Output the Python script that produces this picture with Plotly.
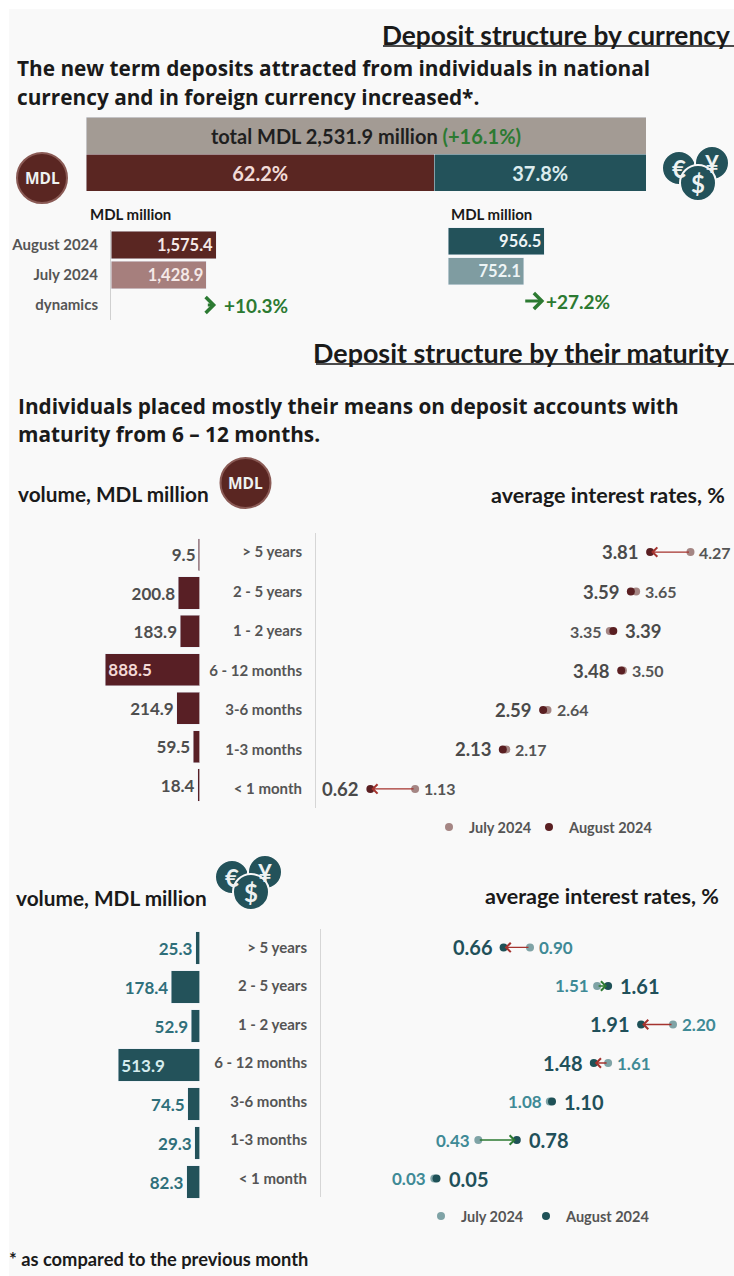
import plotly.graph_objects as go

W, H = 734, 1276
NARROW = "Lato, sans-serif"
WIDE = "Open Sans, sans-serif"

RED_DARK, RED_MID, RED_LIGHT = "#5a2622", "#581f25", "#a67f7d"
TEAL_DARK, TEAL_LIGHT = "#23525a", "#7f9ca1"
GREEN = "#2c7a32"
GREY_TXT = "#555555"

# ---------- data ----------
total_label = "total MDL 2,531.9 million"
total_change = "(+16.1%)"
share_mdl, share_fx = 62.2, 37.8

months = ["dynamics", "July 2024", "August 2024"]
mdl_values = [None, 1428.9, 1575.4]
fx_values = [None, 752.1, 956.5]
mdl_dynamics = "+10.3%"
fx_dynamics = "+27.2%"

maturities = ["< 1 month", "1-3 months", "3-6 months", "6 - 12 months", "1 - 2 years", "2 - 5 years", "> 5 years"]
mdl_volume = [18.4, 59.5, 214.9, 888.5, 183.9, 200.8, 9.5]
fx_volume = [82.3, 29.3, 74.5, 513.9, 52.9, 178.4, 25.3]
mdl_rate_jul = [1.13, 2.17, 2.64, 3.50, 3.35, 3.65, 4.27]
mdl_rate_aug = [0.62, 2.13, 2.59, 3.48, 3.39, 3.59, 3.81]
fx_rate_jul = [0.03, 0.43, 1.08, 1.61, 2.20, 1.51, 0.90]
fx_rate_aug = [0.05, 0.78, 1.10, 1.48, 1.91, 1.61, 0.66]


def xd(l, r):
    return [l / W, r / W]


def yd(t, b):
    return [1 - b / H, 1 - t / H]


fig = go.Figure()
ann, shapes = [], []


def note(x, y, text, size, color="#1a1a1a", anchor="left", family=NARROW, weight=700):
    pad = {"left": -2, "right": 2, "center": 0}[anchor]
    ann.append(dict(x=(x + pad) / W, y=1 - y / H, xref="paper", yref="paper", text=text, showarrow=False,
                    xanchor=anchor, yanchor="middle", font=dict(size=size, color=color, family=family, weight=weight)))


def hidden(**kw):
    return dict(visible=False, fixedrange=True, **kw)


def coin(cx, cy, r, label, fill, size, ring=None):
    shapes.append(dict(type="circle", xref="paper", yref="paper", x0=(cx - r) / W, x1=(cx + r) / W,
                       y0=1 - (cy + r) / H, y1=1 - (cy - r) / H, fillcolor=fill,
                       line=dict(color=ring or "#f9f9f9", width=2), layer="above"))
    note(cx, cy, label, size, "#eef2f2", "center", WIDE if label == "MDL" else NARROW)


def fx_coins(cx, cy):
    coin(cx - 18, cy - 4, 17, "€", TEAL_DARK, 24)
    coin(cx + 15, cy - 9, 17, "¥", TEAL_DARK, 24)
    coin(cx + 1, cy + 11, 18, "$", TEAL_DARK, 24)


# panel
shapes.append(dict(type="rect", xref="paper", yref="paper", x0=9 / W, x1=1, y0=0, y1=1 - 9 / H,
                   fillcolor="#f9f9f9", line_width=0, layer="below"))

# ---------- totals bar ----------
fig.add_bar(y=["total"], x=[share_mdl + share_fx], width=[1], orientation="h", marker_color="#a39b94", xaxis="x", yaxis="y",
            text=[f"{total_label} <span style='color:{GREEN}'>{total_change}</span>"], textposition="inside",
            insidetextanchor="middle", textangle=0, constraintext="none",
            textfont=dict(size=20, color="#1f1f1f", family=NARROW, weight=700), showlegend=False, hoverinfo="skip")
fig.add_bar(y=["share"], x=[share_mdl], width=[1], orientation="h", marker_color=RED_DARK, xaxis="x", yaxis="y",
            text=[f"{share_mdl}%"], textposition="inside", insidetextanchor="middle", textangle=0, constraintext="none",
            textfont=dict(size=20, color="#f2dcd8", family=NARROW, weight=700), showlegend=False, hoverinfo="skip")
fig.add_bar(y=["share"], x=[share_fx], width=[1], orientation="h", marker_color=TEAL_DARK, xaxis="x", yaxis="y",
            text=[f"{share_fx}%"], textposition="inside", insidetextanchor="middle", textangle=0, constraintext="none",
            textfont=dict(size=20, color="#dcecee", family=NARROW, weight=700), showlegend=False, hoverinfo="skip")

# ---------- small month bars ----------
fig.add_bar(y=months, x=mdl_values, width=0.93, orientation="h", marker_color=["#000", RED_LIGHT, RED_DARK], xaxis="x2", yaxis="y2",
            text=[None, f"{mdl_values[1]:,.1f}", f"{mdl_values[2]:,.1f}"], textposition="inside", insidetextanchor="end",
            textangle=0, constraintext="none", textfont=dict(size=16.5, color="#f5e9e7", family=NARROW, weight=700),
            showlegend=False, hoverinfo="skip")
fig.add_bar(y=months, x=fx_values, width=0.9, orientation="h", marker_color=["#000", TEAL_LIGHT, TEAL_DARK], xaxis="x3", yaxis="y3",
            text=[None, f"{fx_values[1]:,.1f}", f"{fx_values[2]:,.1f}"], textposition="inside", insidetextanchor="end",
            textangle=0, constraintext="none", textfont=dict(size=16.5, color="#eef5f6", family=NARROW, weight=700),
            showlegend=False, hoverinfo="skip")

for xa, ya, vals, label, lx in (("x2", "y2", mdl_values, mdl_dynamics, 6), ("x3", "y3", fx_values, fx_dynamics, 0)):
    ann.append(dict(x=vals[2], y="dynamics", ax=vals[1], ay="dynamics", xref=xa, yref=ya, axref=xa, ayref=ya,
                    text="", showarrow=True, arrowhead=4, arrowsize=1.1, arrowwidth=2.8, arrowcolor=GREEN, standoff=0, startstandoff=0))
    ann.append(dict(x=vals[2], y="dynamics", xref=xa, yref=ya, text=label, showarrow=False, xanchor="left", xshift=lx,
                    font=dict(size=19, color=GREEN, family=NARROW, weight=700)))


# ---------- maturity panels ----------
def panel(bx, by, dx, dy, lg_j, lg_a, volume, jul, aug, c_bar, c_jul, c_aug, c_vol, c_in, c_july_txt, c_aug_txt, s_aug, s_jul):
    top = max(volume)
    fig.add_bar(y=maturities, x=volume, orientation="h", marker_color=c_bar, xaxis=bx, yaxis=by,
                text=[f"{v:.1f}" for v in volume], textangle=0, constraintext="none",
                textposition=["inside" if v == top else "outside" for v in volume], insidetextanchor="end",
                textfont=dict(size=17, color=[c_in if v == top else c_vol for v in volume], family=NARROW, weight=700),
                showlegend=False, hoverinfo="skip", cliponaxis=False)
    fig.add_scatter(y=maturities, x=jul, mode="markers", name="July 2024", xaxis=dx, yaxis=dy, legend=lg_j, showlegend=True,
                    marker=dict(size=8, color=c_jul), cliponaxis=False)
    fig.add_scatter(y=maturities, x=aug, mode="markers", name="August 2024", xaxis=dx, yaxis=dy, legend=lg_a, showlegend=True,
                    marker=dict(size=8, color=c_aug), cliponaxis=False)
    for cat, j, a in zip(maturities, jul, aug):
        down = a < j
        ann.append(dict(x=a, y=cat, ax=j, ay=cat, xref=dx, yref=dy, axref=dx, ayref=dy, text="", showarrow=True,
                        arrowhead=4, arrowsize=1.3, arrowwidth=1.4, arrowcolor="#a5332e" if down else GREEN,
                        standoff=1, startstandoff=0))
        ann.append(dict(x=a, y=cat, xref=dx, yref=dy, text=f"{a:.2f}", showarrow=False,
                        xanchor="right" if down else "left", xshift=-9 if down else 10,
                        font=dict(size=s_aug, color=c_aug_txt, family=NARROW, weight=700)))
        ann.append(dict(x=j, y=cat, xref=dx, yref=dy, text=f"{j:.2f}", showarrow=False,
                        xanchor="left" if down else "right", xshift=7 if down else -6,
                        font=dict(size=s_jul, color=c_july_txt, family=NARROW, weight=700)))


panel("x4", "y4", "x5", "y5", "legend", "legend2", mdl_volume, mdl_rate_jul, mdl_rate_aug, RED_MID, "#a58684", "#5a1f22",
      "#4e4e4e", "#f3d9d6", "#555555", "#4a4a4a", 18.5, 16)
panel("x6", "y6", "x7", "y7", "legend3", "legend4", fx_volume, fx_rate_jul, fx_rate_aug, TEAL_DARK, "#7fa3a6", "#1e5157",
      "#2f6f7a", "#d5ecee", "#3f8a96", "#21505a", 20, 17)

# ---------- texts ----------
note(730, 35, "Deposit structure by currency", 26.3, anchor="right")
note(730, 353, "Deposit structure by their maturity", 26.9, anchor="right")
for y0, x0 in ((46, 383), (364, 316)):
    shapes.append(dict(type="line", xref="paper", yref="paper", x0=x0 / W, x1=1, y0=1 - y0 / H, y1=1 - y0 / H,
                       line=dict(color="#111111", width=1.6)))
note(17, 68, "The new term deposits attracted from individuals in national", 20.8, family=WIDE)
note(17, 97, "currency and in foreign currency increased*.", 20.8, family=WIDE)
note(18, 406, "Individuals placed mostly their means on deposit accounts with", 20.8, family=WIDE)
note(18, 434, "maturity from 6 – 12 months.", 20.8, family=WIDE)
note(90, 214, "MDL million", 15)
note(451, 214, "MDL million", 15)
note(18, 493, "volume, MDL million", 20.8)
note(725, 495, "average interest rates, %", 21.5, anchor="right")
note(16, 898, "volume, MDL million", 20.8)
note(719, 896, "average interest rates, %", 21.5, anchor="right")
note(9, 1259, "* as compared to the previous month", 18.3)

coin(42, 178, 25, "MDL", RED_DARK, 15.5, "#8a5a55")
coin(245.5, 483, 25, "MDL", RED_DARK, 15.5, "#8a5a55")
fx_coins(697, 172)
fx_coins(250, 881)

tickf = dict(size=15, color=GREY_TXT, family=NARROW, weight=700)


def key(x, y):
    return dict(orientation="h", x=x / W, y=1 - y / H, xanchor="left", yanchor="middle", bgcolor="rgba(0,0,0,0)",
                font=dict(size=14.5, color=GREY_TXT, family=NARROW, weight=700), itemwidth=30)


fig.update_layout(
    width=W, height=H, margin=dict(l=0, r=0, t=0, b=0), paper_bgcolor="#ffffff", plot_bgcolor="rgba(0,0,0,0)",
    barmode="stack", annotations=ann, shapes=shapes,
    xaxis=hidden(domain=xd(86, 646), range=[0, 100]),
    yaxis=hidden(domain=yd(117, 191), categoryorder="array", categoryarray=["share", "total"]),
    xaxis2=hidden(domain=xd(111, 300), range=[0, 189 / 0.0667], anchor="y2"),
    yaxis2=dict(domain=yd(230, 320), anchor="x2", categoryorder="array", categoryarray=months, showline=True,
                linecolor="#d0d0d0", linewidth=1, ticks="outside", ticklen=9, tickcolor="rgba(0,0,0,0)",
                tickfont=tickf, showgrid=False, fixedrange=True),
    xaxis3=hidden(domain=xd(448, 640), range=[0, 192 / 0.1007], anchor="y3"),
    yaxis3=hidden(domain=yd(226, 316), anchor="x3", categoryorder="array", categoryarray=months),
    xaxis4=hidden(domain=xd(60, 199.5), range=[139.5 / 0.106, 0], anchor="y4"),
    yaxis4=hidden(domain=yd(535.4, 804.2), anchor="x4", categoryorder="array", categoryarray=maturities),
    xaxis5=hidden(domain=xd(316, 734), range=[0, 418 / 87.7], anchor="y5"),
    yaxis5=dict(domain=yd(533.4, 807.6), anchor="x5", categoryorder="array", categoryarray=maturities, showline=True,
                linecolor="#d6d6d6", linewidth=1, ticks="outside", ticklen=10, tickcolor="rgba(0,0,0,0)",
                tickfont=tickf, showgrid=False, fixedrange=True),
    xaxis6=hidden(domain=xd(60, 199.5), range=[139.5 / 0.158, 0], anchor="y6"),
    yaxis6=hidden(domain=yd(928.5, 1201.5), anchor="x6", categoryorder="array", categoryarray=maturities),
    xaxis7=hidden(domain=xd(321, 734), range=[-1, 303 / 110], anchor="y7"),
    yaxis7=dict(domain=yd(929, 1197), anchor="x7", categoryorder="array", categoryarray=maturities, showline=True,
                linecolor="#d6d6d6", linewidth=1, ticks="outside", ticklen=10, tickcolor="rgba(0,0,0,0)",
                tickfont=tickf, showgrid=False, fixedrange=True),
    legend=key(429, 827), legend2=key(529, 827), legend3=key(421, 1216), legend4=key(526, 1216),
    bargap=0.165,
    hovermode=False,
)
fig.write_html("out.html", config={"displayModeBar": False},
               post_script="document.body.style.margin='0';document.documentElement.style.overflow='hidden';")
